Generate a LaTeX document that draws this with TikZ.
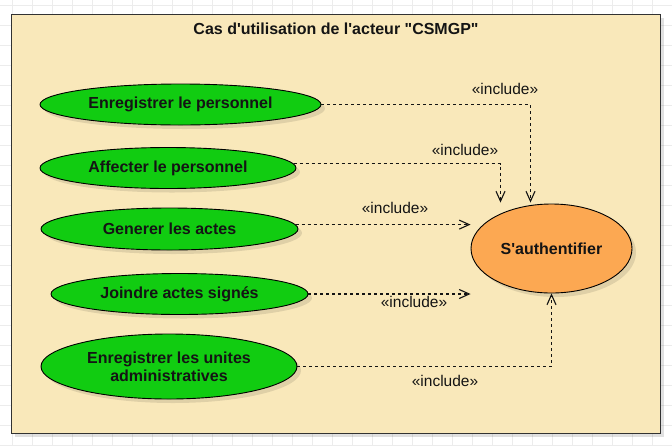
\documentclass[tikz,border=0pt]{standalone}
\usepackage{fontspec}
\setmainfont{Liberation Sans}
\usetikzlibrary{arrows.meta,shapes.geometric,shadows}
\definecolor{gridc}{RGB}{236,236,236}
\definecolor{framefill}{RGB}{249,232,186}
\definecolor{framedraw}{RGB}{50,50,50}
\definecolor{ucgreen}{RGB}{17,204,17}
\definecolor{ucorange}{RGB}{252,168,82}
\definecolor{inkc}{RGB}{20,20,20}
\tikzset{
  uc/.style={ellipse, draw=black, line width=0.9pt, fill=ucgreen, inner sep=0pt,
    font=\fontsize{16}{18}\selectfont\bfseries, align=center, text=inkc,
    drop shadow={shadow xshift=4pt, shadow yshift=-4pt, fill=black, opacity=0.10}},
  inc/.style={dash pattern=on 3pt off 3pt, line width=1.1pt, draw=inkc,
    -{Straight Barb[length=10pt,width=9pt,line width=1.1pt]}},
  inclabel/.style={font=\fontsize{15.5}{18}\selectfont, text=inkc, inner sep=0pt}
}
\begin{document}
\begin{tikzpicture}[x=1pt,y=-1pt]
\useasboundingbox (0,0) rectangle (672,445);
\fill[white] (0,0) rectangle (672,445);
% grid
\foreach \gx in {12,32,...,672} \draw[gridc,line width=0.6pt] (\gx,0) -- (\gx,445);
\foreach \gy in {5,25,...,445} \draw[gridc,line width=0.6pt] (0,\gy) -- (672,\gy);
% frame
\node[draw=framedraw, line width=1.4pt, fill=framefill, minimum width=649pt, minimum height=419pt,
  inner sep=0pt, anchor=north west,
  drop shadow={shadow xshift=3pt, shadow yshift=-3pt, fill=black, opacity=0.12}] (frame) at (11,14) {};
\node[font=\fontsize{16}{18}\selectfont\bfseries, text=inkc] (title) at (336,29) {Cas d\textquotesingle utilisation de l\textquotesingle acteur \textquotedbl CSMGP\textquotedbl};
% use cases
\node[uc, minimum width=281pt, minimum height=41pt] (e1) at (180.5,104.5) {Enregistrer le personnel};
\node[uc, minimum width=256pt, minimum height=41pt] (e2) at (168,168) {Affecter le personnel};
\node[uc, minimum width=257pt, minimum height=42pt] (e3) at (169.5,229) {Generer les actes};
\node[uc, minimum width=257pt, minimum height=41pt] (e4) at (179.5,294) {Joindre actes signés};
\node[uc, minimum width=256pt, minimum height=65pt] (e5) at (169,366.5) {Enregistrer les unites\\administratives};
\node[uc, fill=ucorange, minimum width=161pt, minimum height=89pt] (auth) at (551.5,248.5) {S\textquotesingle authentifier};
% connectors
\draw[inc] (e1.east) -| ([xshift=-21pt,yshift=1pt]auth.north);
\draw[inc] (e2.2) -| ([xshift=-51pt,yshift=1pt]auth.north);
\draw[inc] (e3.2.5) -- (e3.2.5 -| auth.west);
\draw[inc] (e4.east) -- (e4.east -| auth.west);
\draw[inc] (e5.east) -| (auth.south);
% labels
\node[inclabel] (l1) at (505,89) {«include»};
\node[inclabel] (l2) at (465,150) {«include»};
\node[inclabel] (l3) at (395,208) {«include»};
\node[inclabel] (l4) at (414,302) {«include»};
\node[inclabel] (l5) at (445,381) {«include»};
\end{tikzpicture}
\end{document}
